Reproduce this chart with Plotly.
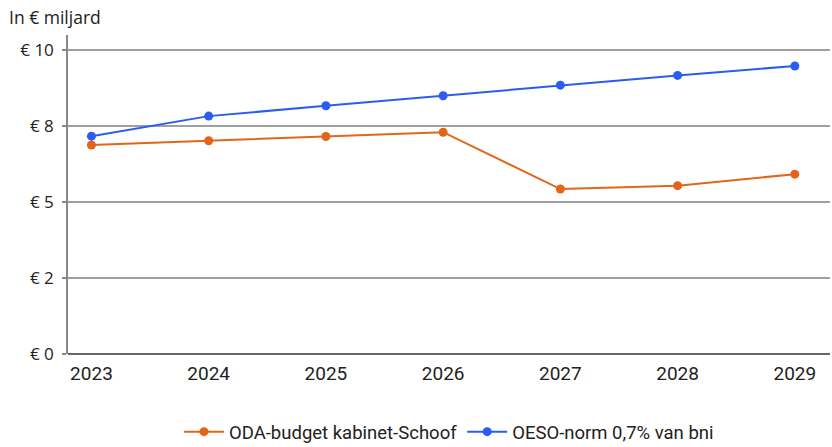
import plotly.graph_objects as go

years = [2023, 2024, 2025, 2026, 2027, 2028, 2029]
oda_budget = [6.88, 7.02, 7.16, 7.30, 5.43, 5.54, 5.92]
oeso_norm = [7.17, 7.83, 8.17, 8.50, 8.85, 9.17, 9.48]
y_tickvals = [0, 2.5, 5, 7.5, 10]
y_ticktext = ["€ 0", "€ 2", "€ 5", "€ 8", "€ 10"]

orange = "#E2651A"
blue = "#2B5CF2"

fig = go.Figure()
fig.add_trace(go.Scatter(x=years, y=oda_budget, mode="lines+markers",
                         name="ODA-budget kabinet-Schoof",
                         line=dict(color=orange, width=2),
                         marker=dict(color=orange, size=9)))
fig.add_trace(go.Scatter(x=years, y=oeso_norm, mode="lines+markers",
                         name="OESO-norm 0,7% van bni",
                         line=dict(color=blue, width=2),
                         marker=dict(color=blue, size=9)))

fig.update_layout(
    width=832, height=447,
    margin=dict(l=68, r=2, t=35, b=93, autoexpand=False),
    paper_bgcolor="white", plot_bgcolor="white",
    font=dict(family="Roboto", size=18, color="#222"),
    showlegend=True,
    legend=dict(orientation="h", x=0.5, xanchor="center", y=-0.245, yanchor="middle",
                font=dict(family="Roboto", size=18.5, color="#222"), itemwidth=40),
    xaxis=dict(range=[2022.8, 2029.3], tickvals=years, showgrid=False,
               zeroline=False, showline=False, ticks="", ticklabelstandoff=6,
               automargin=False, tickfont=dict(family="Roboto", size=19, color="#222")),
    yaxis=dict(range=[0, 10.5], tickvals=y_tickvals, ticktext=y_ticktext,
               showgrid=True, gridcolor="#a0a0a0", gridwidth=1.6,
               zeroline=True, zerolinecolor="#666", zerolinewidth=1.6,
               showline=True, linecolor="#888", linewidth=1.5,
               ticks="outside", ticklen=4, tickcolor="#888", tickwidth=1.5,
               ticklabelstandoff=5, automargin=False,
               tickfont=dict(family="Open Sans", size=17, color="#222")),
    annotations=[dict(text="In € miljard", xref="paper", yref="paper",
                      x=0, y=1, xanchor="left", yanchor="middle",
                      xshift=-61, yshift=18, showarrow=False,
                      font=dict(family="Open Sans", size=17.5, color="#222"))],
)

fig.write_html("out.html", config={"displayModeBar": False},
               post_script="document.body.style.margin='0';document.body.style.overflow='hidden';")
